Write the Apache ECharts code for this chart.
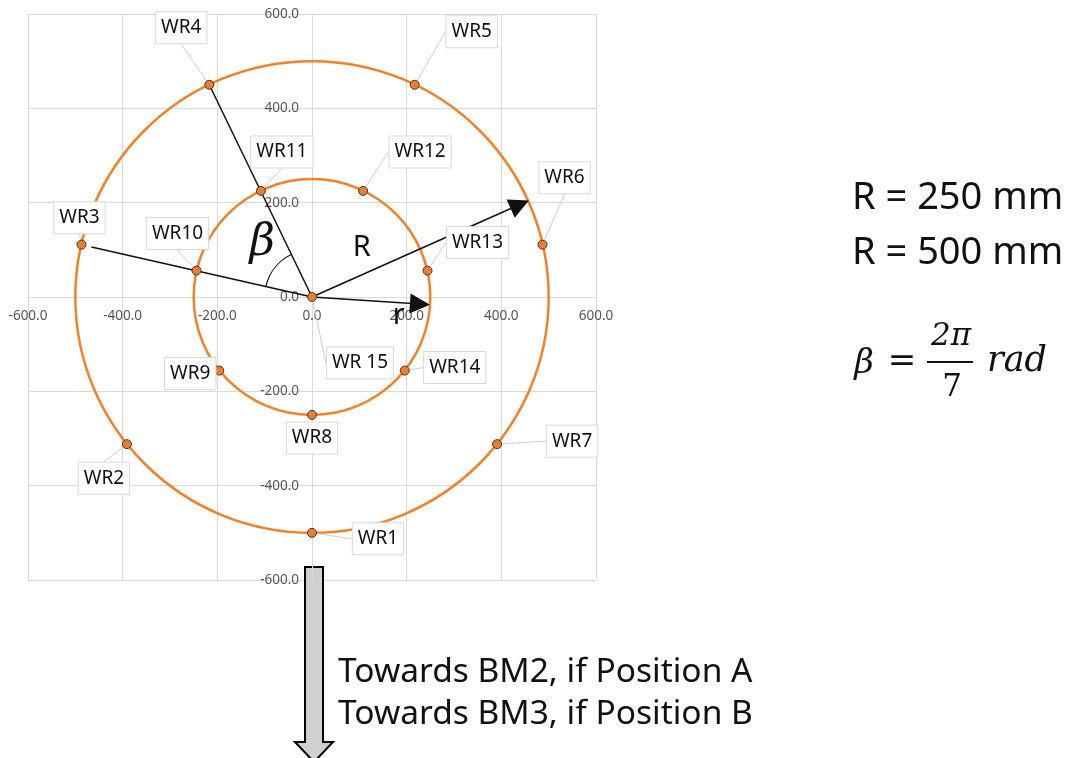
<!DOCTYPE html>
<html><head><meta charset="utf-8">
<script src="https://cdn.jsdelivr.net/npm/echarts@6/dist/echarts.min.js"></script>
<style>html,body{margin:0;padding:0;background:#fff}#c{width:1071px;height:758px}</style>
</head><body><div id="c"></div>
<script>
// ---- data ----
const pointNames = ['WR1','WR2','WR3','WR4','WR5','WR6','WR7','WR8','WR9','WR10','WR11','WR12','WR13','WR14','WR 15'];
const pointX = [0, -391, -487, -217, 217, 487, 391, 0, -196, -244, -108, 108, 244, 196, 0];
const pointY = [-500, -312, 111, 450, 450, 111, -312, -250, -156, 56, 225, 225, 56, -156, 0];
const ringRadii = [250, 500];
const tickValues = [-600, -400, -200, 0, 200, 400, 600];
const spokeEnds = [[-217, 450], [-466, 106]];
const arrowEnds = [[439, 196], [228, -15]];
const betaArc = [100, 167, 116]; // radius, from-angle (deg), to-angle (deg)
const annotNames = ['β', 'R', 'r'];
const annotX = [-105, 105, 183];
const annotY = [114, 104, -40];

// ---- layout (pixels, not data) ----
const labelOffsets = [[66,6],[-23,34],[-2,-27],[-28,-57],[57,-53],[22,-67],[75,-3],[0,23],[-29,3],[-19,-37],[21,-39],[57,-39],[50,-28],[50,-3],[48,66]];
const G = {left: 28, top: 14, width: 568, height: 566};

const chart = echarts.init(document.getElementById('c'));
const axisCommon = {
  type: 'value', min: tickValues[0], max: tickValues[tickValues.length-1], interval: tickValues[1]-tickValues[0],
  axisLine: {show: true, onZero: false, lineStyle: {color: '#d9d9d9', width: 1}},
  axisTick: {show: false},
  splitLine: {lineStyle: {color: '#d9d9d9', width: 1}}
};
const labelFont = {color: '#555', fontSize: 13.5, fontFamily: 'Noto Sans'};

const option = {
  backgroundColor: '#fff',
  animation: false,
  grid: Object.assign({containLabel: false, outerBoundsMode: 'none'}, G),
  xAxis: Object.assign({}, axisCommon, {position: 'bottom', offset: -G.height / 2,
    axisLabel: Object.assign({margin: 12, formatter: v => v.toFixed(1)}, labelFont)}),
  yAxis: Object.assign({}, axisCommon, {position: 'left', offset: -G.width / 2,
    axisLabel: Object.assign({margin: 13, formatter: v => v.toFixed(1)}, labelFont)}),
  series: [
    {
      type: 'custom', name: 'rings', z: 2,
      data: ringRadii.map(r => [0, 0, r]),
      renderItem: (params, api) => {
        const c = api.coord([api.value(0), api.value(1)]);
        const s = api.size([api.value(2), api.value(2)]);
        return {type: 'ellipse', shape: {cx: c[0], cy: c[1], rx: s[0], ry: s[1]},
                style: {fill: 'none', stroke: '#F28128', lineWidth: 2.5}};
      }
    },
    {
      type: 'lines', coordinateSystem: 'cartesian2d', z: 3,
      data: spokeEnds.map(e => ({coords: [[0, 0], e]})),
      symbol: ['none', 'none'],
      lineStyle: {color: '#111', width: 1.5, opacity: 1}
    },
    {
      type: 'lines', coordinateSystem: 'cartesian2d', z: 3,
      data: arrowEnds.map(e => ({coords: [[0, 0], e]})),
      symbol: ['none', 'triangle'], symbolSize: 20,
      lineStyle: {color: '#111', width: 1.5, opacity: 1},
      itemStyle: {color: '#000'}
    },
    {
      type: 'custom', name: 'beta', z: 3,
      data: [[0, 0, betaArc[0], betaArc[1], betaArc[2]]],
      renderItem: (params, api) => {
        const c = api.coord([api.value(0), api.value(1)]);
        const r = api.size([api.value(2), 0])[0];
        return {type: 'arc', shape: {cx: c[0], cy: c[1], r: r,
                  startAngle: -api.value(3) * Math.PI / 180, endAngle: -api.value(4) * Math.PI / 180, clockwise: true},
                style: {fill: 'none', stroke: '#111', lineWidth: 1.2}};
      }
    },
    {
      type: 'scatter', name: 'points', z: 5,
      data: pointNames.map((n, i) => ({name: n, value: [pointX[i], pointY[i]]})),
      symbol: 'circle', symbolSize: 9,
      itemStyle: {color: '#ED7D31', borderColor: '#3a3a3a', borderWidth: 1, opacity: 1},
      label: {show: true, position: 'inside', formatter: p => p.name,
              fontSize: 19, fontFamily: 'Noto Sans', color: '#111',
              backgroundColor: '#fff', borderColor: '#d9d9d9', borderWidth: 1, padding: [6, 5]},
      labelLine: {show: true, lineStyle: {color: '#cfcfcf', width: 1}},
      labelLayout: p => ({dx: labelOffsets[p.dataIndex][0], dy: labelOffsets[p.dataIndex][1]}),
      emphasis: {disabled: true}
    }
  ]
};
chart.setOption(option);

// annotation texts placed through the chart's own scales
const annotStyles = [
  {font: 'italic 44px "DejaVu Serif"'},
  {font: '29px "Noto Sans"'},
  {font: '29px "Noto Sans"'}
];
const annotGraphics = annotNames.map((n, i) => {
  const p = chart.convertToPixel({gridIndex: 0}, [annotX[i], annotY[i]]);
  return {type: 'text', x: p[0], y: p[1], z: 100,
          style: Object.assign({text: n, fill: '#111', align: 'center', verticalAlign: 'middle'}, annotStyles[i])};
});

chart.setOption({graphic: annotGraphics.concat([
  {type: 'text', left: 852, top: 179, style: {text: 'R = 250 mm', font: '38px "Noto Sans"', fill: '#111'}},
  {type: 'text', left: 852, top: 234, style: {text: 'R = 500 mm', font: '38px "Noto Sans"', fill: '#111'}},
  {type: 'text', x: 864, y: 364, style: {text: 'β', font: 'italic 34px "DejaVu Serif"', fill: '#111', align: 'center', verticalAlign: 'middle'}},
  {type: 'text', x: 902, y: 362, style: {text: '=', font: '34px "DejaVu Serif"', fill: '#111', align: 'center', verticalAlign: 'middle'}},
  {type: 'line', shape: {x1: 927, y1: 362, x2: 973, y2: 362}, style: {stroke: '#111', lineWidth: 2}},
  {type: 'text', x: 951, y: 337, style: {text: '2π', font: 'italic 31px "DejaVu Serif"', fill: '#111', align: 'center', verticalAlign: 'middle'}},
  {type: 'text', x: 952, y: 388, style: {text: '7', font: '31px "DejaVu Serif"', fill: '#111', align: 'center', verticalAlign: 'middle'}},
  {type: 'text', x: 987, y: 362, style: {text: 'rad', font: 'italic 35px "DejaVu Serif"', fill: '#111', align: 'left', verticalAlign: 'middle'}},
  {type: 'polygon', shape: {points: [[305,567],[323,567],[323,742],[333,742],[314,762],[295,742],[305,742]]},
   style: {fill: '#d0d0d0', stroke: '#000', lineWidth: 2}},
  {type: 'text', left: 338, top: 655, style: {text: 'Towards BM2, if Position A', font: '33.5px "Noto Sans"', fill: '#111'}},
  {type: 'text', left: 338, top: 697, style: {text: 'Towards BM3, if Position B', font: '33.5px "Noto Sans"', fill: '#111'}}
])});
</script>
</body></html>
